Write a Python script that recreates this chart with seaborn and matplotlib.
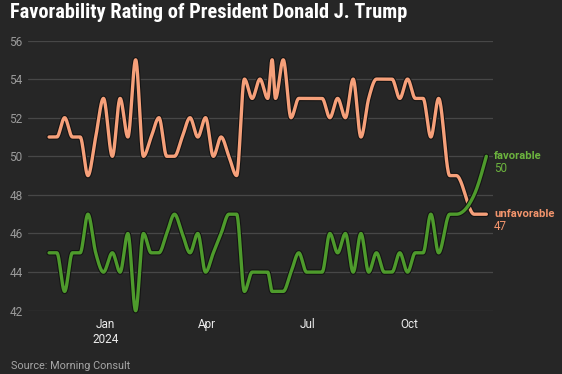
import numpy as np
import pandas as pd
import matplotlib
matplotlib.use("Agg")
import matplotlib.pyplot as plt
import matplotlib.patheffects as pe
import seaborn as sns

# ---- data ----
dates = [
    "2023-11-11", "2023-11-18", "2023-11-25", "2023-12-02", "2023-12-09", "2023-12-16",
    "2023-12-23", "2023-12-30", "2024-01-07", "2024-01-14", "2024-01-21", "2024-01-28",
    "2024-02-04", "2024-02-11", "2024-02-18", "2024-02-25", "2024-03-03", "2024-03-10",
    "2024-03-17", "2024-03-24", "2024-03-31", "2024-04-07", "2024-04-14", "2024-04-21",
    "2024-04-28", "2024-05-05", "2024-05-12", "2024-05-19", "2024-05-26", "2024-05-30",
    "2024-06-02", "2024-06-09", "2024-06-16", "2024-06-23", "2024-06-30", "2024-07-07",
    "2024-07-14", "2024-07-21", "2024-07-28", "2024-08-04", "2024-08-11", "2024-08-18",
    "2024-08-25", "2024-09-01", "2024-09-08", "2024-09-15", "2024-09-22", "2024-09-29",
    "2024-10-06", "2024-10-13", "2024-10-20", "2024-10-27", "2024-11-06", "2024-11-12",
    "2024-11-28", "2024-12-09",
]
unfavorable = [
    51, 51, 52, 51, 51, 49, 51, 53, 50, 53, 51, 55,
    50, 51, 52, 50, 50, 51, 52, 51, 52, 50, 51, 50,
    49, 54, 53, 54, 53, 55, 53, 55, 52, 53, 53, 53,
    53, 52, 53, 52, 54, 51, 53, 54, 54, 54, 53, 54,
    53, 53, 51, 53, 49, 49, 47, 47,
]
favorable = [
    45, 45, 43, 45, 45, 47, 45, 44, 45, 44, 46, 42,
    46, 45, 45, 46, 47, 46, 45, 46, 44, 45, 46, 47,
    47, 43, 44, 44, 44, 43, 43, 43, 44, 45, 44, 44,
    44, 46, 45, 46, 44, 46, 44, 45, 44, 44, 45, 44,
    45, 45, 47, 45, 47, 47, 48, 50,
]
series_names = ["unfavorable", "favorable"]
x_tick_dates = ["2024-01-01", "2024-04-01", "2024-07-01", "2024-10-01"]
x_tick_labels = ["Jan\n2024", "Apr", "Jul", "Oct"]
y_ticks = [42, 44, 46, 48, 50, 52, 54, 56]

title = "Favorability Rating of President Donald J. Trump"
source = "Source: Morning Consult"

# ---- style ----
BG = "#262626"
C_UNF = "#F6A07A"
C_FAV = "#4E9B2C"
C_UNF_TXT = "#F2946C"
C_FAV_TXT = "#6CB33E"


def monotone_curve(x, y, per_seg=24):
    """Monotone cubic (as d3.curveMonotoneX) evaluated densely for drawing."""
    x = np.asarray(x, float)
    y = np.asarray(y, float)
    n = len(x)
    h = np.diff(x)
    s = np.diff(y) / h
    t = np.zeros(n)
    for i in range(1, n - 1):
        h0, h1, s0, s1 = h[i - 1], h[i], s[i - 1], s[i]
        p = (s0 * h1 + s1 * h0) / (h0 + h1)
        t[i] = (np.sign(s0) + np.sign(s1)) * min(abs(s0), abs(s1), 0.5 * abs(p))
    t[0] = (3 * s[0] - t[1]) / 2
    t[-1] = (3 * s[-1] - t[-2]) / 2
    xs, ys = [], []
    for i in range(n - 1):
        u = np.linspace(0, 1, per_seg, endpoint=(i == n - 2))
        hh = h[i]
        h00 = 2 * u**3 - 3 * u**2 + 1
        h10 = u**3 - 2 * u**2 + u
        h01 = -2 * u**3 + 3 * u**2
        h11 = u**3 - u**2
        xs.append(x[i] + u * hh)
        ys.append(h00 * y[i] + h10 * hh * t[i] + h01 * y[i + 1] + h11 * hh * t[i + 1])
    return np.concatenate(xs), np.concatenate(ys)


base = pd.Timestamp("2023-01-01")
dt = pd.to_datetime(dates)
days = np.asarray((dt - base).days, float)

frames = []
for name, vals in zip(series_names, [unfavorable, favorable]):
    xd, yd = monotone_curve(days, vals)
    frames.append(pd.DataFrame({
        "date": base + pd.to_timedelta(xd, unit="D"),
        "value": yd,
        "series": name,
    }))
dense = pd.concat(frames, ignore_index=True)

sns.set_theme(style="dark")
plt.rcParams["font.family"] = ["Roboto", "DejaVu Sans"]

fig = plt.figure(figsize=(5.62, 3.74), dpi=100, facecolor=BG)
ax = fig.add_axes([28 / 562, 1 - 310.7 / 374, (493 - 28) / 562, (310.7 - 40.5) / 374])
ax.set_facecolor(BG)

sns.lineplot(
    data=dense, x="date", y="value", hue="series", hue_order=series_names,
    palette={"unfavorable": C_UNF, "favorable": C_FAV},
    linewidth=2.4, legend=False, ax=ax, sort=False, estimator=None,
)
for ln in ax.lines:
    ln.set_clip_on(False)
    ln.set_solid_capstyle("round")
    ln.set_path_effects([pe.Stroke(linewidth=4.0, foreground="#141414"), pe.Normal()])

ax.set_ylim(42, 56)
ax.set_xlim(pd.Timestamp("2023-10-23"), pd.Timestamp("2024-12-15"))
ax.set_yticks(y_ticks)
ax.set_yticklabels([str(v) for v in y_ticks])
ax.set_xticks(pd.to_datetime(x_tick_dates))
ax.set_xticklabels(x_tick_labels)
ax.tick_params(axis="y", colors="#9a9a9a", labelsize=8.5, length=0, pad=4)
ax.tick_params(axis="x", colors="#ececec", labelsize=8.5, length=0, pad=5)
ax.set_xlabel("")
ax.set_ylabel("")
ax.grid(axis="y", color="#474747", linewidth=0.9)
ax.grid(axis="x", visible=False)
ax.set_axisbelow(True)
for sp in ax.spines.values():
    sp.set_visible(False)

# end labels
last_date = pd.Timestamp(dates[-1])
for name, vals, col in [("favorable", favorable, C_FAV_TXT), ("unfavorable", unfavorable, C_UNF_TXT)]:
    ax.annotate(name, xy=(last_date, vals[-1]), xytext=(5.6, 0), textcoords="offset points",
                color=col, fontsize=8.1, fontweight="bold", va="center", ha="left",
                annotation_clip=False)
    ax.annotate(str(vals[-1]), xy=(last_date, vals[-1]), xytext=(5.6, -9), textcoords="offset points",
                color=col, fontsize=8.4, va="center", ha="left", annotation_clip=False)

t = fig.text(10 / 562, 1 - 3.5 / 374, title, color="white", fontsize=14, fontweight="bold",
             family=["Liberation Sans Narrow", "Roboto Condensed", "Roboto", "DejaVu Sans"],
             va="top", ha="left")
# scale title so that it spans the same width as in the reference (~400 px)
r = fig.canvas.get_renderer()
w = t.get_window_extent(r).width
t.set_fontsize(14 * 400.0 / w)

fig.text(11 / 562, 1 - 366 / 374, source, color="#a6a6a6", fontsize=7.8, va="center", ha="left")

fig.savefig("out.png", dpi=100, facecolor=BG)
